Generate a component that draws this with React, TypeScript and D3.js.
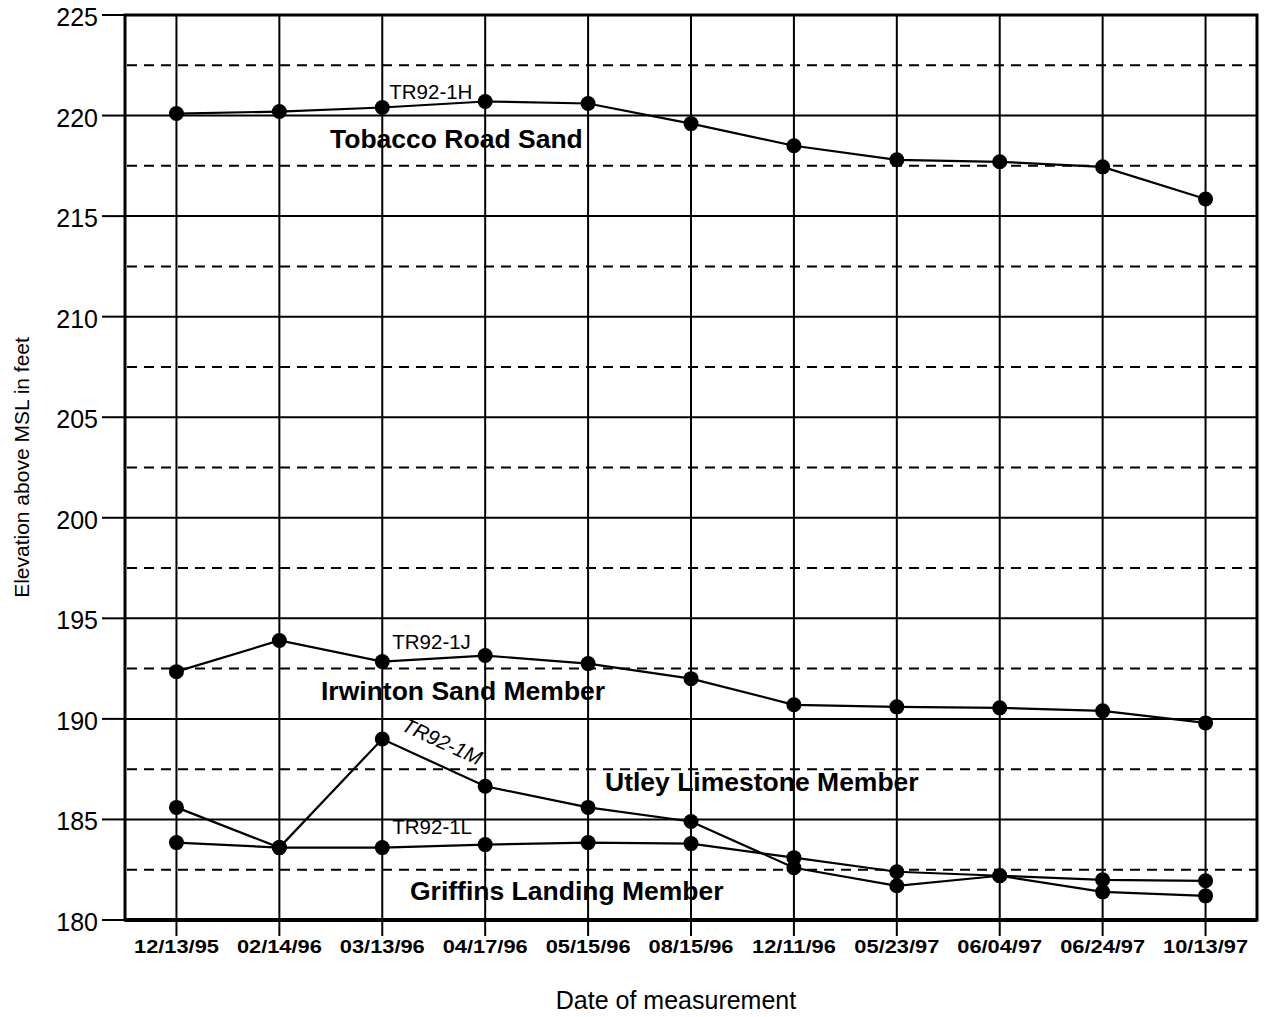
import React from "react";
import * as d3 from "d3";

const dates = ["12/13/95","02/14/96","03/13/96","04/17/96","05/15/96","08/15/96","12/11/96","05/23/97","06/04/97","06/24/97","10/13/97"];
const tr1H = [220.1, 220.2, 220.4, 220.7, 220.6, 219.6, 218.5, 217.8, 217.7, 217.45, 215.85];
const tr1J = [192.35, 193.9, 192.85, 193.15, 192.75, 192.0, 190.7, 190.6, 190.55, 190.4, 189.8];
const tr1M = [185.6, 183.6, 189.0, 186.65, 185.6, 184.9, 182.6, 181.7, 182.2, 181.4, 181.2];
const tr1L = [183.85, 183.6, 183.6, 183.75, 183.85, 183.8, 183.1, 182.4, 182.2, 182.0, 181.95];
const majorTicks = [180, 185, 190, 195, 200, 205, 210, 215, 220, 225];
const minorTicks = [182.5, 187.5, 192.5, 197.5, 202.5, 207.5, 212.5, 217.5, 222.5];

const W = 1264, H = 1017;
const L = 125, R = 1257, T = 15, B = 920;
const FONT = "Liberation Sans, Arial, sans-serif";

export default function App() {
  const x = d3.scalePoint<string>().domain(dates).range([L, R]).padding(0.5);
  const y = d3.scaleLinear().domain([180, 225]).range([B, T]);
  const line = d3.line<number>().x((_, i) => x(dates[i])!).y((v) => y(v));
  const series = [tr1H, tr1J, tr1M, tr1L];
  const mAngle = (Math.atan2(y(tr1M[3]) - y(tr1M[2]), x(dates[3])! - x(dates[2])!) * 180) / Math.PI;

  return (
    <svg width={W} height={H} style={{ position: "absolute", left: 0, top: 0, background: "#fff" }}>
      <rect x={0} y={0} width={W} height={H} fill="#fff" />
      {/* dashed minor grid */}
      {minorTicks.map((t) => (
        <line key={"m" + t} x1={L + 2} x2={R} y1={y(t)} y2={y(t)} stroke="#000" strokeWidth={2} strokeDasharray="10,7" />
      ))}
      {/* major grid */}
      {majorTicks.map((t) => (
        <g key={"M" + t}>
          <line x1={L} x2={R} y1={y(t)} y2={y(t)} stroke="#000" strokeWidth={2} />
          <line x1={102} x2={L} y1={y(t)} y2={y(t)} stroke="#000" strokeWidth={2} />
          <text x={98} y={y(t) + 11} textAnchor="end" fontFamily={FONT} fontSize={25}>{t}</text>
        </g>
      ))}
      {/* vertical grid and x ticks */}
      {dates.map((d) => (
        <g key={d}>
          <line x1={x(d)} x2={x(d)} y1={T} y2={936} stroke="#000" strokeWidth={2} />
          <text transform={`translate(${x(d)},953) scale(1.18,1)`} textAnchor="middle" fontFamily={FONT} fontSize={18.5} fontWeight="bold">{d}</text>
        </g>
      ))}
      {/* frame */}
      <rect x={L} y={T} width={R - L} height={B - T} fill="none" stroke="#000" strokeWidth={3} />
      <line x1={L} x2={R} y1={B} y2={B} stroke="#000" strokeWidth={4} />
      {/* series */}
      {series.map((s, k) => (
        <g key={"s" + k}>
          <path d={line(s)!} fill="none" stroke="#000" strokeWidth={2.2} />
          {s.map((v, i) => (
            <circle key={i} cx={x(dates[i])} cy={y(v)} r={7.5} fill="#000" />
          ))}
        </g>
      ))}
      {/* labels */}
      <text x={x(dates[2])! + 7} y={y(tr1H[2]) - 9} fontFamily={FONT} fontSize={20.5}>TR92-1H</text>
      <text x={330} y={y(218.4)} fontFamily={FONT} fontSize={26.5} fontWeight="bold">Tobacco Road Sand</text>
      <text x={x(dates[2])! + 10} y={y(tr1J[2]) - 13} fontFamily={FONT} fontSize={20.5}>TR92-1J</text>
      <text x={321} y={y(190.94)} fontFamily={FONT} fontSize={26.5} fontWeight="bold">Irwinton Sand Member</text>
      <text
        transform={`translate(${x(dates[2])! + 18},${y(tr1M[2]) - 9}) rotate(${mAngle})`}
        fontFamily={FONT} fontSize={20.5} fontStyle="italic"
      >TR92-1M</text>
      <text x={605} y={y(186.41)} fontFamily={FONT} fontSize={26.5} fontWeight="bold">Utley Limestone Member</text>
      <text x={x(dates[2])! + 10} y={y(tr1L[2]) - 14} fontFamily={FONT} fontSize={20.5}>TR92-1L</text>
      <text x={410} y={y(181)} fontFamily={FONT} fontSize={26.5} fontWeight="bold">Griffins Landing Member</text>
      {/* axis titles */}
      <text transform={`translate(29,${(T + B) / 2}) rotate(-90)`} textAnchor="middle" fontFamily={FONT} fontSize={21}>Elevation above MSL in feet</text>
      <text x={676} y={1009} textAnchor="middle" fontFamily={FONT} fontSize={25}>Date of measurement</text>
    </svg>
  );
}
